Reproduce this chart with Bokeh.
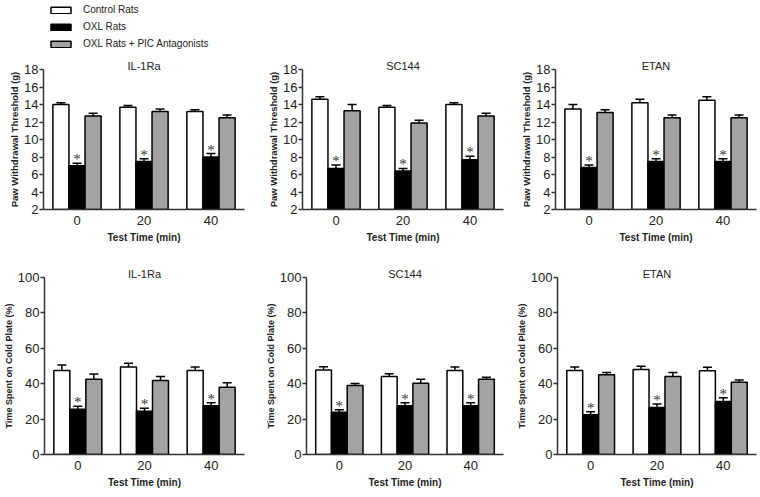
from bokeh.plotting import figure
from bokeh.models import (ColumnDataSource, Whisker, TeeHead, FixedTicker, Range1d,
                          Legend, LegendItem, Title)
from bokeh.layouts import column, row
from bokeh.embed import file_html
from bokeh.resources import INLINE

# ---------------- data ----------------
times = ["0", "20", "40"]
groups = ["Control Rats", "OXL Rats", "OXL Rats + PIC Antagonists"]
drugs = ["IL-1Ra", "SC144", "ETAN"]
sig = ["*", "*", "*"]

pwt_ticks = [2, 4, 6, 8, 10, 12, 14, 16, 18]
cold_ticks = [0, 20, 40, 60, 80, 100]

# Paw withdrawal threshold (g): [control, OXL, OXL+PIC] means and SEMs
pwt_il1ra_mean = [[14.0, 13.7, 13.2], [7.0, 7.5, 8.0], [12.7, 13.2, 12.5]]
pwt_il1ra_sem = [[0.2, 0.2, 0.2], [0.3, 0.3, 0.4], [0.3, 0.3, 0.3]]
pwt_sc144_mean = [[14.6, 13.7, 14.0], [6.7, 6.4, 7.7], [13.3, 11.9, 12.7]]
pwt_sc144_sem = [[0.3, 0.2, 0.2], [0.4, 0.3, 0.4], [0.7, 0.3, 0.3]]
pwt_etan_mean = [[13.5, 14.2, 14.5], [6.8, 7.5, 7.5], [13.1, 12.5, 12.5]]
pwt_etan_sem = [[0.5, 0.4, 0.4], [0.3, 0.3, 0.3], [0.3, 0.3, 0.3]]

# Time spent on cold plate (%)
cold_il1ra_mean = [[47.5, 49.5, 47.5], [25.5, 24.5, 27.5], [42.5, 41.8, 38.0]]
cold_il1ra_sem = [[3.0, 2.0, 2.0], [1.8, 1.7, 1.8], [3.0, 2.2, 2.5]]
cold_sc144_mean = [[47.8, 44.0, 47.5], [23.8, 27.5, 27.5], [39.0, 40.3, 42.5]]
cold_sc144_sem = [[1.8, 1.6, 2.0], [1.5, 1.8, 1.8], [1.1, 2.2, 1.2]]
cold_etan_mean = [[47.5, 48.0, 47.3], [22.5, 26.5, 30.0], [45.0, 44.0, 40.8]]
cold_etan_sem = [[2.0, 1.8, 2.0], [1.7, 2.0, 2.0], [1.3, 2.3, 1.3]]

# ---------------- style ----------------
colors = ["white", "black", "#a3a3a3"]
SANS = "'Liberation Sans', Arial, sans-serif"
BW = 0.24
TXT = "#222222"


def panel(means, sems, title, ylabel, yr, yticks, width, height, bl, br, bt, bb, ylab_size):
    p = figure(width=width, height=height, x_range=Range1d(-0.5, 2.5), y_range=Range1d(*yr),
               output_backend="svg", toolbar_location=None,
               min_border_left=bl, min_border_right=br, min_border_top=bt, min_border_bottom=bb)
    p.title = Title(text=title, align="center", standoff=-5, text_font=SANS,
                    text_font_size="11px", text_font_style="normal", text_color=TXT)
    p.xgrid.visible = False
    p.ygrid.visible = False
    p.outline_line_color = None
    idx = list(range(len(times)))
    for g in range(3):
        off = (g - 1) * BW
        xs = [i + off for i in idx]
        src = ColumnDataSource(dict(x=xs, top=means[g], sig=sig,
                                    upper=[m + s for m, s in zip(means[g], sems[g])]))
        p.add_layout(Whisker(source=src, base="x", lower="top", upper="upper",
                             line_color="black", line_width=1.5, lower_head=None,
                             upper_head=TeeHead(size=9, line_color="black", line_width=1.5)))
        p.vbar(x="x", top="top", bottom=yr[0], width=BW, source=src,
               fill_color=colors[g], line_color="black", line_width=1.5)
        if g == 1:
            p.text(x="x", y="upper", text="sig", source=src, text_align="center",
                   text_baseline="alphabetic", y_offset=-4, text_font_size="15px",
                   text_color="#333333", text_font=SANS)
    ya = p.yaxis[0]
    ya.ticker = FixedTicker(ticks=yticks)
    ya.axis_label = ylabel
    ya.axis_label_text_font = SANS
    ya.axis_label_text_font_style = "bold"
    ya.axis_label_text_font_size = ylab_size
    ya.axis_label_text_color = TXT
    ya.axis_label_standoff = 1
    ya.major_label_text_font = SANS
    ya.major_label_text_font_size = "13px"
    ya.major_label_text_color = TXT
    ya.major_label_standoff = 1
    ya.major_tick_out = 4
    ya.major_tick_in = 0
    ya.minor_tick_out = 0
    ya.minor_tick_in = 0
    ya.axis_line_width = 1.5
    ya.major_tick_line_width = 1.5
    ya.axis_line_color = "#333333"
    ya.major_tick_line_color = "#333333"
    xa = p.xaxis[0]
    xa.ticker = FixedTicker(ticks=idx)
    xa.major_label_overrides = {i: t for i, t in zip(idx, times)}
    xa.axis_label = "Test Time (min)"
    xa.axis_label_text_font = SANS
    xa.axis_label_text_font_style = "bold"
    xa.axis_label_text_font_size = "10px"
    xa.axis_label_text_color = TXT
    xa.axis_label_standoff = 4
    xa.major_label_text_font = SANS
    xa.major_label_text_font_size = "13px"
    xa.major_label_text_color = TXT
    xa.major_label_standoff = 6
    xa.major_tick_out = 0
    xa.major_tick_in = 0
    xa.minor_tick_out = 0
    xa.minor_tick_in = 0
    xa.axis_line_width = 1.5
    xa.axis_line_color = "#333333"
    return p


# legend strip (legend proxies carry no drawable data)
nan = float("nan")
leg = figure(width=760, height=50, x_range=Range1d(0, 1), y_range=Range1d(0, 1),
             output_backend="svg", toolbar_location=None,
             min_border_left=44, min_border_right=0, min_border_top=0, min_border_bottom=0)
leg.xaxis.visible = False
leg.yaxis.visible = False
leg.xgrid.visible = False
leg.ygrid.visible = False
leg.outline_line_color = None
rs = [leg.vbar(x=[nan], top=[nan], width=0.1, fill_color=c, line_color="black", line_width=1.5)
      for c in colors]
legend = Legend(items=[LegendItem(label=g, renderers=[r]) for g, r in zip(groups, rs)],
                location="top_left", margin=4, padding=0, border_line_color=None,
                background_fill_alpha=0, glyph_width=25, glyph_height=8, label_height=8,
                label_standoff=10, spacing=6, label_text_font=SANS,
                label_text_font_size="10px", label_text_color=TXT,
                label_text_baseline="middle")
leg.add_layout(legend, "center")

PWT = "Paw Withdrawal Threshold (g)"
COLD = "Time Spent on Cold Plate (%)"

t1 = panel(pwt_il1ra_mean, pwt_il1ra_sem, drugs[0], PWT, (2, 18), pwt_ticks, 262, 200, 43, 18, 19, 41, "9.5px")
t2 = panel(pwt_sc144_mean, pwt_sc144_sem, drugs[1], PWT, (2, 18), pwt_ticks, 251, 200, 40, 10, 19, 41, "9.5px")
t3 = panel(pwt_etan_mean, pwt_etan_sem, drugs[2], PWT, (2, 18), pwt_ticks, 247, 200, 42, 4, 19, 41, "9.5px")
b1 = panel(cold_il1ra_mean, cold_il1ra_sem, drugs[0], COLD, (0, 100), cold_ticks, 262, 247, 43, 18, 27, 43, "9px")
b2 = panel(cold_sc144_mean, cold_sc144_sem, drugs[1], COLD, (0, 100), cold_ticks, 251, 247, 40, 10, 27, 43, "9px")
b3 = panel(cold_etan_mean, cold_etan_sem, drugs[2], COLD, (0, 100), cold_ticks, 247, 247, 42, 4, 27, 43, "9px")

layout = column(leg, row(t1, t2, t3), row(b1, b2, b3))
open("out.html", "w").write(file_html(layout, INLINE))
